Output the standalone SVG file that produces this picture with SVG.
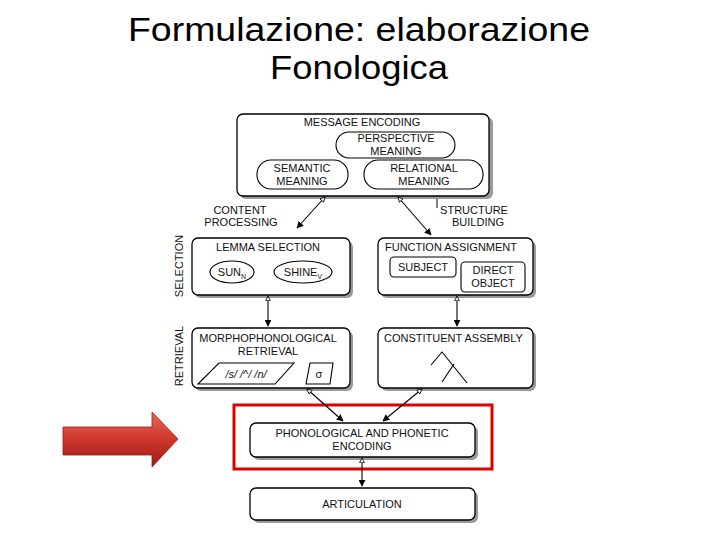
<svg xmlns="http://www.w3.org/2000/svg" width="720" height="540" viewBox="0 0 720 540">
<defs>
<linearGradient id="redg" x1="0" y1="0" x2="0" y2="1">
<stop offset="0" stop-color="#e86a60"/>
<stop offset="0.45" stop-color="#d13a30"/>
<stop offset="1" stop-color="#9e1a14"/>
</linearGradient>
<marker id="ah" viewBox="0 0 10 10" refX="9" refY="5" markerWidth="7" markerHeight="7" orient="auto" markerUnits="userSpaceOnUse">
<path d="M0,0 L10,5 L0,10 z" fill="#000"/>
</marker>
<marker id="ot" viewBox="0 0 10 10" refX="9" refY="5" markerWidth="6" markerHeight="6" orient="auto-start-reverse" markerUnits="userSpaceOnUse">
<path d="M1,1 L9,5 L1,9 z" fill="#fff" stroke="#000" stroke-width="1.4"/>
</marker>
</defs>
<style>
.box{fill:#fff;stroke:#000;stroke-width:1.3}
.sh{fill:#9a9a9a}
.pill{fill:#fff;stroke:#000;stroke-width:1.1}
.lab{font-family:"Liberation Sans",Arial,sans-serif;font-size:11px;fill:#111}
.c{text-anchor:middle}
.con{stroke:#000;stroke-width:1.1;fill:none}
.title{font-family:"Liberation Sans",Arial,sans-serif;font-size:33px;fill:#000;text-anchor:middle}
</style>
<rect width="720" height="540" fill="#fff"/>
<g id="title">
<text class="title" x="359" y="41" textLength="462" lengthAdjust="spacingAndGlyphs">Formulazione: elaborazione</text>
<text class="title" x="359" y="79" textLength="178" lengthAdjust="spacingAndGlyphs">Fonologica</text>
</g>

<g id="message-encoding">
<rect class="sh" x="240" y="117" width="253" height="82" rx="6"/>
<rect class="box" x="237" y="114" width="252" height="82" rx="6"/>
<text class="lab c" x="362" y="126">MESSAGE ENCODING</text>
<rect class="pill" x="336" y="132" width="119" height="26" rx="13"/>
<text class="lab c" x="396" y="142">PERSPECTIVE</text>
<text class="lab c" x="396" y="155">MEANING</text>
<rect class="pill" x="257" y="160" width="91" height="29" rx="14"/>
<text class="lab c" x="302" y="172">SEMANTIC</text>
<text class="lab c" x="302" y="185">MEANING</text>
<rect class="pill" x="364" y="160" width="119" height="29" rx="14"/>
<text class="lab c" x="424" y="172">RELATIONAL</text>
<text class="lab c" x="424" y="185">MEANING</text>
</g>

<g id="labels">
<text class="lab c" x="240" y="214">CONTENT</text>
<text class="lab c" x="241" y="226">PROCESSING</text>
<text class="lab c" x="474" y="214">STRUCTURE</text>
<text class="lab c" x="478" y="226">BUILDING</text>
<line x1="437" y1="199" x2="437" y2="208" stroke="#000" stroke-width="1"/>
<text class="lab c" transform="translate(183,266) rotate(-90)">SELECTION</text>
<text class="lab c" transform="translate(183,356) rotate(-90)">RETRIEVAL</text>
</g>

<g id="lemma-selection">
<rect class="sh" x="195" y="241" width="158" height="57" rx="6"/>
<rect class="box" x="192" y="238" width="158" height="57" rx="6"/>
<text class="lab c" x="268" y="251">LEMMA SELECTION</text>
<ellipse class="pill" cx="232" cy="272" rx="22" ry="11"/>
<text class="lab c" x="232" y="276">SUN<tspan font-size="7" dy="3">N</tspan></text>
<ellipse class="pill" cx="303" cy="272" rx="29" ry="11"/>
<text class="lab c" x="303" y="276">SHINE<tspan font-size="7" dy="3">V</tspan></text>
</g>

<g id="function-assignment">
<rect class="sh" x="381" y="241" width="155" height="57" rx="6"/>
<rect class="box" x="378" y="238" width="155" height="57" rx="6"/>
<text class="lab" x="385" y="251">FUNCTION ASSIGNMENT</text>
<rect class="pill" x="390" y="257" width="66" height="20" rx="4"/>
<text class="lab c" x="423" y="271">SUBJECT</text>
<rect class="pill" x="461" y="262" width="64" height="30" rx="4"/>
<text class="lab c" x="493" y="274">DIRECT</text>
<text class="lab c" x="493" y="287">OBJECT</text>
</g>

<g id="morphophonological-retrieval">
<rect class="sh" x="195" y="331" width="158" height="60" rx="6"/>
<rect class="box" x="192" y="328" width="158" height="60" rx="6"/>
<text class="lab c" x="268" y="342">MORPHOPHONOLOGICAL</text>
<text class="lab c" x="268" y="355">RETRIEVAL</text>
<polygon points="198,384 219,363 294,363 275,384" fill="#fff" stroke="#000" stroke-width="1.1"/>
<text class="lab c" x="246" y="378" font-style="italic">/s/ /^/ /n/</text>
<polygon points="306,384 310,363 333,363 330,384" fill="#fff" stroke="#000" stroke-width="1.1"/>
<text class="lab c" x="319" y="378">σ</text>
</g>

<g id="constituent-assembly">
<rect class="sh" x="381" y="331" width="155" height="60" rx="6"/>
<rect class="box" x="378" y="328" width="155" height="60" rx="6"/>
<text class="lab" x="384" y="342">CONSTITUENT ASSEMBLY</text>
<polyline points="431,365 442,352 467,383" fill="none" stroke="#000" stroke-width="1.1"/>
<line x1="454" y1="364" x2="442" y2="382" stroke="#000" stroke-width="1.1"/>
</g>

<g id="highlight">
<rect x="234" y="405" width="258" height="64" fill="none" stroke="#e00000" stroke-width="3"/>
</g>

<g id="phonological-encoding">
<rect class="sh" x="253" y="426" width="225" height="34" rx="6"/>
<rect class="box" x="250" y="423" width="225" height="34" rx="6"/>
<text class="lab c" x="362" y="437">PHONOLOGICAL AND PHONETIC</text>
<text class="lab c" x="362" y="450">ENCODING</text>
</g>

<g id="articulation">
<rect class="sh" x="253" y="491" width="225" height="32" rx="6"/>
<rect class="box" x="250" y="488" width="225" height="32" rx="6"/>
<text class="lab c" x="362" y="508">ARTICULATION</text>
</g>

<g id="red-arrow">
<polygon points="63,427 152,427 152,412 178,439 152,467 152,455 63,455" fill="url(#redg)" stroke="#a01a14" stroke-width="0.8"/>
</g>

<g id="connectors">
<line class="con" x1="325" y1="197" x2="297" y2="228" marker-start="url(#ot)" marker-end="url(#ah)"/>
<line class="con" x1="398" y1="197" x2="431" y2="235" marker-start="url(#ot)" marker-end="url(#ah)"/>
<line class="con" x1="268" y1="296" x2="268" y2="326" marker-start="url(#ot)" marker-end="url(#ah)"/>
<line class="con" x1="457" y1="296" x2="457" y2="326" marker-start="url(#ot)" marker-end="url(#ah)"/>
<line class="con" x1="307" y1="389" x2="343" y2="421" marker-start="url(#ot)" marker-end="url(#ah)"/>
<line class="con" x1="422" y1="389" x2="383" y2="421" marker-start="url(#ot)" marker-end="url(#ah)"/>
<line class="con" x1="362" y1="458" x2="362" y2="486" marker-start="url(#ot)" marker-end="url(#ah)"/>
</g>
</svg>
